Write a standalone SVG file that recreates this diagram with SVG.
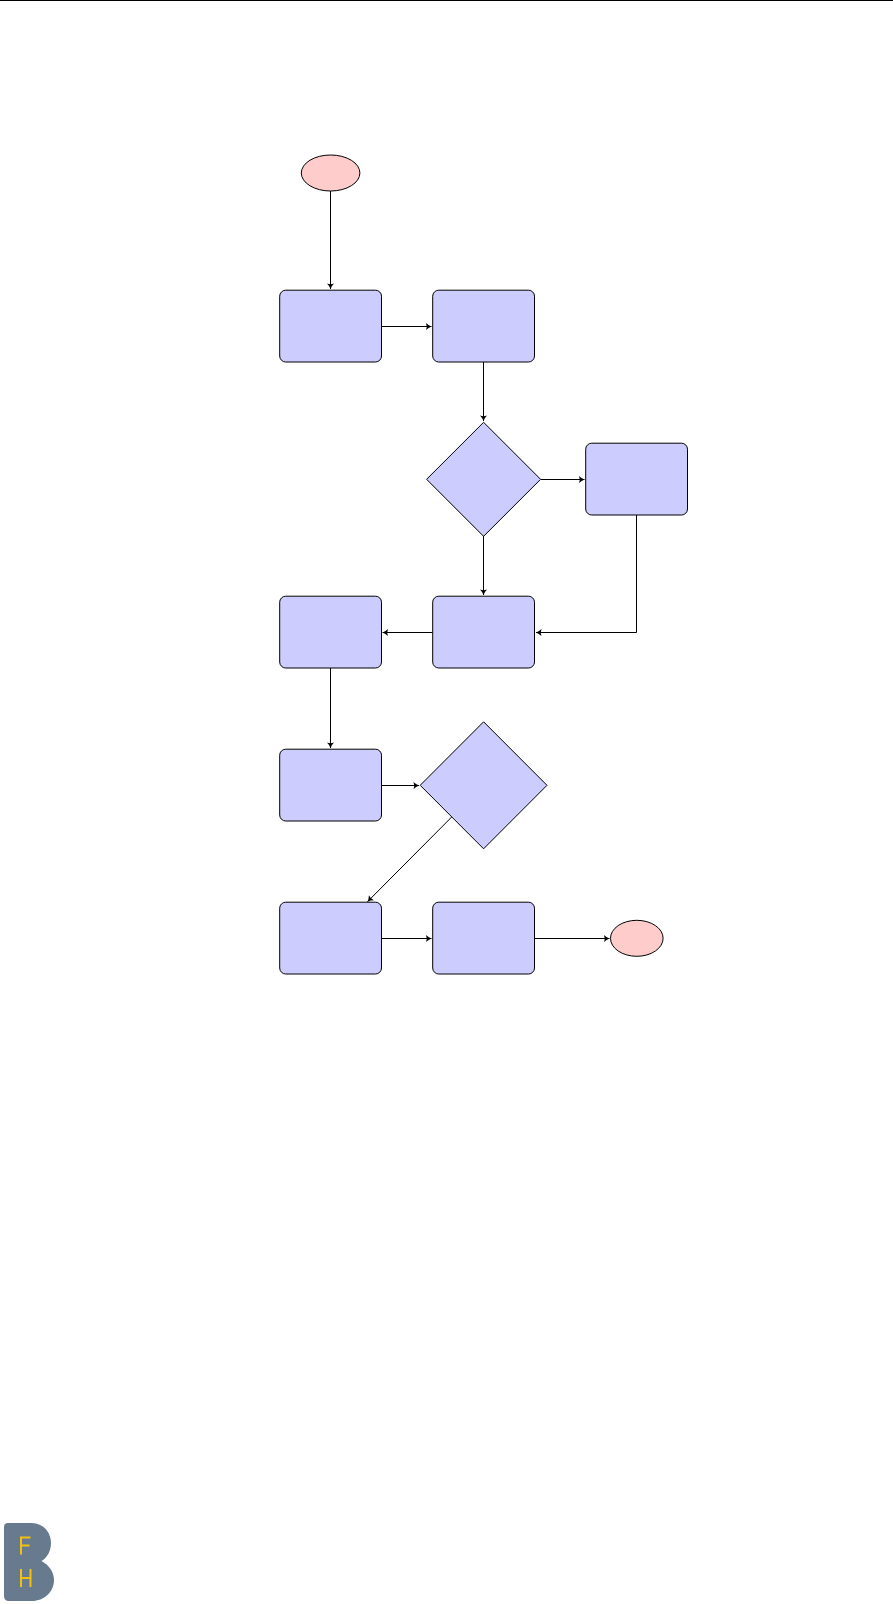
<svg xmlns="http://www.w3.org/2000/svg" width="893" height="1604" viewBox="0 0 893 1604">
<style>
.box{fill:#ccccff;stroke:#000;stroke-width:1}
.start{fill:#ffcccc;stroke:#000;stroke-width:1}
.conn{fill:none;stroke:#000;stroke-width:1;marker-end:url(#arrow)}
</style>
<defs>
<marker id="arrow" markerUnits="userSpaceOnUse" markerWidth="8" markerHeight="8" refX="5.5" refY="3.5" orient="auto" overflow="visible">
<path d="M0 0 Q2.5 2.5 5.5 3.5 Q2.5 4.5 0 7 Q1.4 3.5 0 0Z" fill="#000"/>
</marker>
</defs>
<rect width="893" height="1604" fill="#fff"/>
<rect id="header-rule" x="0" y="0" width="893" height="1" fill="#000"/>
<g id="connectors">
<path class="conn" d="M330.5 191V289"/>
<path class="conn" d="M381.5 326.5H431.5"/>
<path class="conn" d="M483.5 362V421"/>
<path class="conn" d="M541 479.5H584.5"/>
<path class="conn" d="M483.5 536V595"/>
<path class="conn" d="M636.5 515V632.5H536"/>
<path class="conn" d="M432.5 632.5H382.5"/>
<path class="conn" d="M330.5 668V748"/>
<path class="conn" d="M381.5 785.5H419"/>
<path class="conn" d="M451.7 817L367.5 901.7"/>
<path class="conn" d="M381.5 938.5H431.5"/>
<path class="conn" d="M534.5 938.5H609.5"/>
</g>
<g id="start"><ellipse class="start" cx="330.6" cy="173" rx="29.3" ry="18"/></g>
<g id="n1"><rect class="box" x="279.7" y="290.2" width="101.8" height="71.8" rx="6"/></g>
<g id="n2"><rect class="box" x="432.7" y="290.2" width="101.8" height="71.8" rx="6"/></g>
<g id="d1"><path class="box" d="M483.6 422.3L540.6 479.3L483.6 536.3L426.6 479.3Z"/></g>
<g id="n3"><rect class="box" x="585.7" y="443.2" width="101.8" height="71.8" rx="6"/></g>
<g id="n4"><rect class="box" x="432.7" y="596.2" width="101.8" height="71.8" rx="6"/></g>
<g id="n5"><rect class="box" x="279.7" y="596.2" width="101.8" height="71.8" rx="6"/></g>
<g id="n6"><rect class="box" x="279.7" y="749.2" width="101.8" height="71.8" rx="6"/></g>
<g id="d2"><path class="box" d="M483.6 721.8L547 785.3L483.6 848.8L420.2 785.3Z"/></g>
<g id="n7"><rect class="box" x="279.7" y="902.2" width="101.8" height="71.8" rx="6"/></g>
<g id="n8"><rect class="box" x="432.7" y="902.2" width="101.8" height="71.8" rx="6"/></g>
<g id="end"><ellipse class="start" cx="636.8" cy="938.3" rx="26.3" ry="18"/></g>
<g id="logo">
<path d="M8 1523H31C43 1523 51 1532 51 1543C51 1551 47 1558 41.5 1561C49 1565 54 1572 54 1580C54 1592 44 1601 32 1601H9Q4 1601 4 1596V1527Q4 1523 8 1523Z" fill="#677a8e"/>
<path d="M21 1554.5V1537.5H30.5M21 1545.5H29.5" fill="none" stroke="#f2c010" stroke-width="2"/>
<path d="M21 1587V1569M30.5 1587V1569M21 1578H30.5" fill="none" stroke="#f2c010" stroke-width="2"/>
</g>
</svg>
